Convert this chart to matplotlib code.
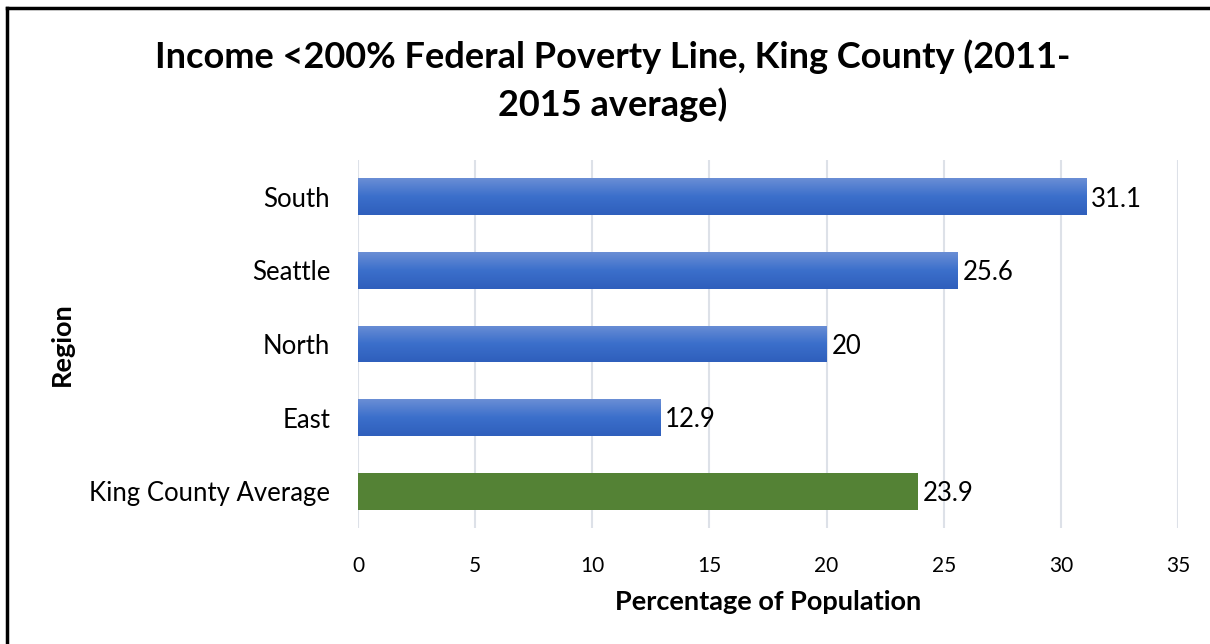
import matplotlib.pyplot as plt
import numpy as np
from matplotlib.colors import LinearSegmentedColormap

regions = ["King County Average", "East", "North", "Seattle", "South"]
values = [23.9, 12.9, 20, 25.6, 31.1]
labels = ["23.9", "12.9", "20", "25.6", "31.1"]

plt.rcParams['font.family'] = ['Lato', 'DejaVu Sans']

fig = plt.figure(figsize=(12.1, 6.44), dpi=100)
ax = fig.add_axes([358/1210, 1 - 528/644, 820/1210, 368/644])

blue_grad = LinearSegmentedColormap.from_list("bg", ["#2f5fbc", "#3b6fcb", "#6a8ed5"])
green = "#548235"

bars = ax.barh(range(len(regions)), values, height=0.5, color=green, zorder=2)
grad = np.linspace(0, 1, 100).reshape(-1, 1)
for i, b in enumerate(bars):
    if regions[i] == "King County Average":
        continue
    b.set_facecolor("none")
    x0, y0 = b.get_x(), b.get_y()
    im = ax.imshow(grad, cmap=blue_grad, aspect='auto', origin='lower',
                   extent=[x0, x0 + b.get_width(), y0, y0 + b.get_height()], zorder=2)
    im.set_clip_path(b)

for b, lab in zip(bars, labels):
    ax.text(b.get_width() + 0.2, b.get_y() + b.get_height() / 2 - 0.03, lab,
            va='center', ha='left', fontsize=18.5)

ax.set_xlim(0, 35)
ax.set_ylim(-0.5, len(regions) - 0.5)
ax.set_xticks(range(0, 36, 5))
ax.set_yticks(range(len(regions)))
ax.set_yticklabels(regions)
ax.grid(axis='x', color='#dde1e8', linewidth=1.5, zorder=0)
ax.set_axisbelow(True)
for s in ax.spines.values():
    s.set_visible(False)
ax.tick_params(axis='both', length=0)
ax.tick_params(axis='y', pad=20, labelsize=18.5)
ax.tick_params(axis='x', pad=20, labelsize=15)

ax.set_xlabel("Percentage of Population", fontsize=19.5, fontweight='bold', labelpad=10)
ax.set_ylabel("Region", fontsize=19.5, fontweight='bold', labelpad=11)

fig.text(0.506, 1 - 57/644, "Income <200% Federal Poverty Line, King County (2011-",
         ha='center', va='center', fontsize=26, fontweight='bold')
fig.text(0.506, 1 - 105/644, "2015 average)",
         ha='center', va='center', fontsize=26, fontweight='bold')

# outer frame (Excel chart border, cut off at right and bottom)
fig.add_artist(plt.Line2D([7/1210, 7/1210], [0, 1 - 8/644], color='black', linewidth=2.5,
                          transform=fig.transFigure))
fig.add_artist(plt.Line2D([7/1210, 1], [1 - 8/644, 1 - 8/644], color='black', linewidth=2.5,
                          transform=fig.transFigure))

fig.savefig("out.png", dpi=100)
